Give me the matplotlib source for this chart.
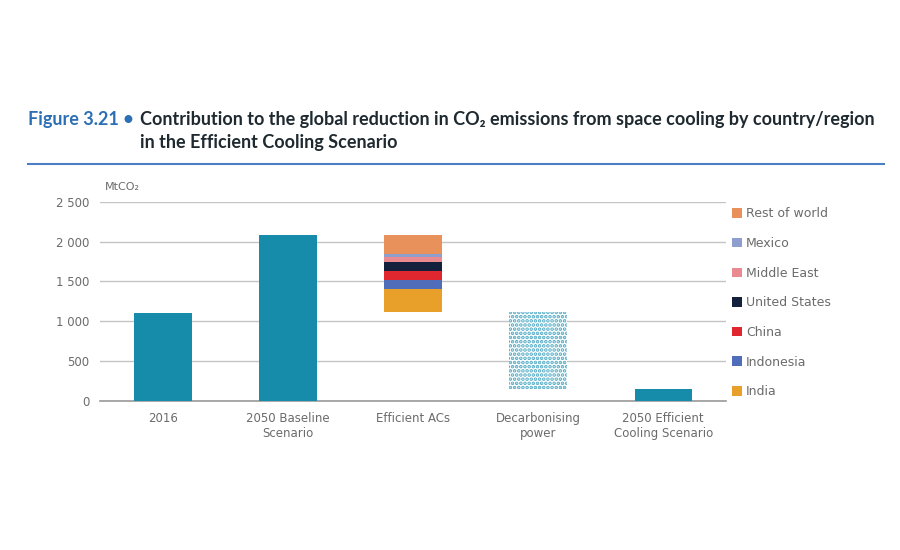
import numpy as np
import matplotlib.pyplot as plt
from matplotlib.patches import Patch

# data (MtCO2)
categories = ["2016", "2050 Baseline\nScenario", "Efficient ACs", "Decarbonising\npower",
              "2050 Efficient\nCooling Scenario"]
totals = [1110, 2080, None, None, 150]
regions = ["India", "Indonesia", "China", "United States", "Middle East", "Mexico", "Rest of world"]
region_savings = [280, 117, 113, 117, 55, 38, 240]
region_colors = ["#E8A02A", "#4F6DB8", "#E0262F", "#14213D", "#E88A8F", "#8E9ECF", "#E8915A"]
decarb_top = 1120
decarb_bottom = 150
yticks = [0, 500, 1000, 1500, 2000, 2500]

teal = "#168BAA"
fig = plt.figure(figsize=(9, 5.5), dpi=100)
fig.patch.set_facecolor("white")
ax = fig.add_axes([0.1115, 0.271, 0.695, 0.362])

x = np.arange(len(categories))
w = 0.46

# solid bars
for i in (0, 1, 4):
    ax.bar(x[i], totals[i], width=w, color=teal, zorder=3)

# efficient ACs stack, hanging down from baseline
bottom = totals[1] - sum(region_savings)
for val, col in zip(region_savings, region_colors):
    ax.bar(x[2], val, bottom=bottom, width=w, color=col, zorder=3)
    bottom += val

# decarbonising power - dotted texture
plt.rcParams["hatch.linewidth"] = 1.8
ax.bar(x[3], decarb_top - decarb_bottom, bottom=decarb_bottom, width=w,
       facecolor="white", edgecolor="#4FAAC4", hatch="....", linewidth=0, zorder=3)

ax.set_xlim(-0.5, len(categories) - 0.5)
ax.set_ylim(0, 2500)
ax.set_yticks(yticks)
ax.set_yticklabels([f"{v:,}".replace(",", " ") for v in yticks])
ax.set_xticks(x)
ax.set_xticklabels(categories)
ax.tick_params(axis="both", length=0, labelsize=8.5, labelcolor="#6b6b6b", pad=8)
ax.grid(axis="y", color="#c4c4c4", linewidth=1, zorder=0)
for s in ["top", "right", "left"]:
    ax.spines[s].set_visible(False)
ax.spines["bottom"].set_color("#9a9a9a")
ax.spines["bottom"].set_linewidth(1.2)
ax.text(0.008, 1.06, "MtCO\u2082", transform=ax.transAxes, fontsize=8, color="#6b6b6b",
        family=["DejaVu Sans"])

# legend
handles = [Patch(facecolor=c, label=l) for l, c in zip(regions, region_colors)][::-1]
fig.legend(handles=handles, loc="upper left", bbox_to_anchor=(0.808, 0.632), frameon=False,
           fontsize=9, labelcolor="#6b6b6b", handlelength=0.8, handleheight=0.8,
           handletextpad=0.3, labelspacing=1.33, borderaxespad=0)

# title
tfont = ["Lato", "DejaVu Sans"]
fig.text(0.031, 0.772, "Figure 3.21 \u2022", fontsize=13, fontweight="bold", color="#2C6FB5",
         family=tfont)
fig.text(0.156, 0.772, "Contribution to the global reduction in CO\u2082 emissions from space cooling by country/region",
         fontsize=13, fontweight="bold", color="#1f2a30", family=tfont)
fig.text(0.156, 0.731, "in the Efficient Cooling Scenario",
         fontsize=13, fontweight="bold", color="#1f2a30", family=tfont)
fig.add_artist(plt.Line2D([0.031, 0.982], [0.702, 0.702], color="#4A7FC1", linewidth=1.5))

fig.savefig("out.png", dpi=100, facecolor="white")
